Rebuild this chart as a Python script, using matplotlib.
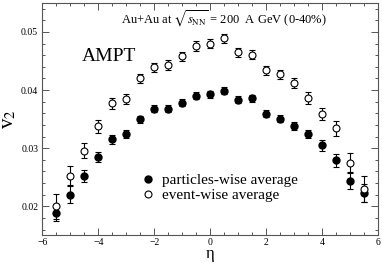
import numpy as np
import matplotlib
matplotlib.use('Agg')
from matplotlib import pyplot as plt
from matplotlib.lines import Line2D
from matplotlib.ticker import MultipleLocator

plt.rcParams['font.family'] = ['Liberation Serif', 'DejaVu Serif']
plt.rcParams['mathtext.fontset'] = 'stix'

# pseudorapidity bins
eta = [-5.5, -5.0, -4.5, -4.0, -3.5, -3.0, -2.5, -2.0, -1.5, -1.0, -0.5,
       0.0, 0.5, 1.0, 1.5, 2.0, 2.5, 3.0, 3.5, 4.0, 4.5, 5.0, 5.5]

# particles-wise average
v2_part = [0.0189, 0.0220, 0.0252, 0.0285, 0.0315, 0.0325, 0.0350, 0.0368,
           0.0368, 0.0378, 0.0390, 0.0393, 0.0399, 0.0383, 0.0386, 0.0359,
           0.0351, 0.0338, 0.0325, 0.0305, 0.0279, 0.0244, 0.0223]
err_part = [0.0015, 0.0015, 0.0011, 0.0009, 0.0007, 0.0007, 0.0006, 0.0006,
            0.0006, 0.0006, 0.0006, 0.0006, 0.0006, 0.0006, 0.0006, 0.0006,
            0.0006, 0.0007, 0.0007, 0.0009, 0.0011, 0.0015, 0.0015]

# event-wise average
v2_evt = [0.0200, 0.0253, 0.0296, 0.0338, 0.0377, 0.0385, 0.0420, 0.0439,
          0.0443, 0.0458, 0.0476, 0.0480, 0.0489, 0.0465, 0.0461, 0.0434,
          0.0427, 0.0412, 0.0386, 0.0359, 0.0334, 0.0274, 0.0230]
err_evt = [0.0022, 0.0017, 0.0013, 0.0011, 0.0010, 0.0009, 0.0008, 0.0008,
           0.0008, 0.0008, 0.0008, 0.0008, 0.0008, 0.0008, 0.0008, 0.0008,
           0.0008, 0.0009, 0.0010, 0.0011, 0.0013, 0.0017, 0.0022]

fig = plt.figure(figsize=(3.82, 2.63), dpi=100)
ax = fig.add_axes([0.111, 0.105, 0.879, 0.884])

ax.errorbar(eta, v2_part, yerr=err_part, fmt='o', color='black', ms=5,
            elinewidth=0.8, capsize=2, capthick=0.8)
ax.errorbar(eta, v2_evt, yerr=err_evt, fmt='o', color='black', ms=5,
            mfc='white', mew=0.8, elinewidth=0.8, capsize=2, capthick=0.8)

ax.set_xlim(-6, 6)
ax.set_ylim(0.015, 0.055)
ax.xaxis.set_major_locator(MultipleLocator(2))
ax.xaxis.set_minor_locator(MultipleLocator(0.5))
ax.yaxis.set_major_locator(MultipleLocator(0.01))
ax.yaxis.set_minor_locator(MultipleLocator(0.002))
ax.tick_params(which='both', direction='in', top=True, right=True,
               labelsize=7, width=0.7, color='#555555')
ax.tick_params(which='major', length=5, pad=3)
ax.tick_params(axis='x', which='major', pad=2)
ax.tick_params(which='minor', length=2.5)
for s in ax.spines.values():
    s.set_linewidth(0.8)
    s.set_color('#555555')

# eta label sits just above the bottom edge
fig.text(0.5506, 0.003, 'η', fontsize=12, ha='center', va='bottom')
ax.set_ylabel(r'v$_2$', fontsize=15, labelpad=2)

ax.text(0.118, 0.77, 'AMPT', transform=ax.transAxes, fontsize=14,
        va='center', ha='left')
ax.text(0.234, 0.93, r'Au+Au at $\sqrt{s_{\rm NN}}$ = 200  A GeV (0-40%)',
        transform=ax.transAxes, fontsize=9, va='center', ha='left')

handles = [Line2D([], [], ls='none', marker='o', color='black', ms=5),
           Line2D([], [], ls='none', marker='o', color='black', ms=5,
                  mfc='white', mew=0.8)]
ax.legend(handles, ['particles-wise average', 'event-wise average'],
          loc='center left', bbox_to_anchor=(0.265, 0.205), frameon=False,
          fontsize=11, handlelength=0.8, handletextpad=0.5, labelspacing=0.1,
          numpoints=1, borderpad=0.2)

fig.savefig('out.png', dpi=100)
